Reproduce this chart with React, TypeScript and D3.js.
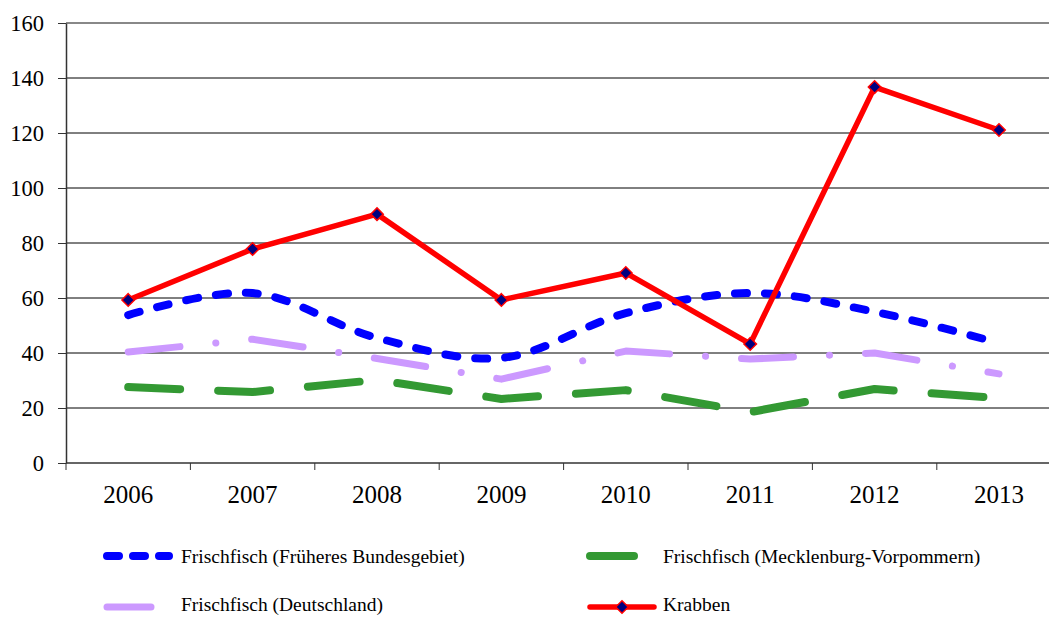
import React, { useEffect, useRef } from "react";
import * as d3 from "d3";

const width = 1049;
const height = 617;

const years = ["2006", "2007", "2008", "2009", "2010", "2011", "2012", "2013"];
const yTicks = [0, 20, 40, 60, 80, 100, 120, 140, 160];

const frueheresBundesgebiet = [53.8, 61.8, 45.5, 38.2, 54.5, 61.8, 55.0, 43.6];
const mecklenburgVorpommern = [27.6, 25.8, 30.2, 23.3, 26.5, 18.5, 26.9, 23.6];
const deutschland = [40.4, 45.0, 38.0, 30.5, 40.7, 37.8, 40.0, 32.4];
const krabben = [59.3, 77.8, 90.5, 59.3, 69.1, 43.3, 136.7, 121.1];

const series = [
  { name: "Frischfisch (Früheres Bundesgebiet)", values: frueheresBundesgebiet, color: "#0000ff", w: 8, dash: "12,18", smooth: true },
  { name: "Frischfisch (Mecklenburg-Vorpommern)", values: mecklenburgVorpommern, color: "#339933", w: 8, dash: "52,38", smooth: false },
  { name: "Frischfisch (Deutschland)", values: deutschland, color: "#cc99ff", w: 7, dash: "52,36,0.1,36", smooth: false },
  { name: "Krabben", values: krabben, color: "#ff0000", w: 5.5, dash: null, smooth: false },
];

const font = "'Liberation Serif', 'Times New Roman', serif";

export default function App() {
  const ref = useRef<SVGSVGElement>(null);

  useEffect(() => {
    const svg = d3.select(ref.current);
    svg.selectAll("*").remove();

    const left = 66, top = 23, bottom = 463;
    const band = 124.4;
    const x = d3.scaleBand().domain(years).range([left, left + band * years.length]);
    const y = d3.scaleLinear().domain([0, 160]).range([bottom, top]);

    // gridlines
    svg.append("g")
      .selectAll("line")
      .data(yTicks.filter((t) => t > 0))
      .join("line")
      .attr("x1", left).attr("x2", width)
      .attr("y1", (d) => y(d)).attr("y2", (d) => y(d))
      .attr("stroke", (d) => (d === 160 ? "#888" : "#000"))
      .attr("stroke-width", (d) => (d === 160 ? 2 : 1));

    // y axis
    const yAxis = svg.append("g")
      .attr("transform", `translate(${left},0)`)
      .call(d3.axisLeft(y).tickValues(yTicks).tickSize(8).tickSizeOuter(0).tickPadding(14));
    yAxis.attr("font-family", null).attr("font-size", null);
    yAxis.select(".domain").attr("stroke", "#333").attr("stroke-width", 1.5);
    yAxis.selectAll("line").attr("stroke", "#333");
    yAxis.selectAll("text").style("font-family", font).style("font-size", "22.5px").attr("fill", "#000");

    // x axis
    const xAxis = svg.append("g").attr("transform", `translate(0,${bottom})`);
    xAxis.append("line").attr("x1", left).attr("x2", width).attr("stroke", "#333").attr("stroke-width", 1.5);
    xAxis.selectAll(".tk")
      .data(d3.range(years.length + 1))
      .join("line")
      .attr("class", "tk")
      .attr("x1", (i) => left + i * band).attr("x2", (i) => left + i * band)
      .attr("y1", 0).attr("y2", 7)
      .attr("stroke", "#333");
    xAxis.selectAll("text")
      .data(years)
      .join("text")
      .attr("x", (d) => (x(d) as number) + x.bandwidth() / 2)
      .attr("y", 40)
      .attr("text-anchor", "middle")
      .style("font-family", font)
      .style("font-size", "25px")
      .text((d) => d);

    const cx = (i: number) => (x(years[i]) as number) + x.bandwidth() / 2;

    series.forEach((s) => {
      const line = d3.line<number>()
        .x((_, i) => cx(i))
        .y((d) => y(d))
        .curve(s.smooth ? d3.curveCatmullRom.alpha(0.5) : d3.curveLinear);
      const p = svg.append("path")
        .datum(s.values)
        .attr("d", line)
        .attr("fill", "none")
        .attr("stroke", s.color)
        .attr("stroke-width", s.w)
        .attr("stroke-linecap", s.dash ? "round" : "butt")
        .attr("stroke-linejoin", "round");
      if (s.dash) p.attr("stroke-dasharray", s.dash);
    });

    const diamond = d3.symbol().type(d3.symbolDiamond2).size(100);
    svg.append("g")
      .selectAll("path")
      .data(krabben)
      .join("path")
      .attr("d", diamond)
      .attr("transform", (d, i) => `translate(${cx(i)},${y(d)})`)
      .attr("fill", "#000080")
      .attr("stroke", "#ff0000")
      .attr("stroke-width", 1.5);

    // legend
    const legendPos = [
      { lx: 104, lw: 68, tx: 181, ty: 556, tty: 556 },
      { lx: 587, lw: 50, tx: 663, ty: 556, tty: 556 },
      { lx: 104, lw: 50, tx: 181, ty: 607, tty: 604 },
      { lx: 587, lw: 70, tx: 663, ty: 607, tty: 604 },
    ];
    series.forEach((s, i) => {
      const pos = legendPos[i];
      const g = svg.append("g");
      const ln = g.append("line")
        .attr("x1", pos.lx + 3).attr("x2", pos.lx + pos.lw - 3)
        .attr("y1", pos.ty).attr("y2", pos.ty)
        .attr("stroke", s.color)
        .attr("stroke-width", s.w)
        .attr("stroke-linecap", "round");
      if (i === 0) ln.attr("stroke-dasharray", "12,14");
      if (i === 3) {
        g.append("path")
          .attr("d", diamond)
          .attr("transform", `translate(${pos.lx + pos.lw / 2},${pos.ty})`)
          .attr("fill", "#000080")
          .attr("stroke", "#ff0000")
          .attr("stroke-width", 1.5);
      }
      g.append("text")
        .attr("x", pos.tx)
        .attr("y", pos.tty)
        .attr("dy", "0.35em")
        .style("font-family", font)
        .style("font-size", "19.5px")
        .text(s.name);
    });
  }, []);

  return (
    <svg
      ref={ref}
      width={width}
      height={height}
      style={{ position: "absolute", left: 0, top: 0, background: "#fff", overflow: "hidden" }}
    />
  );
}
